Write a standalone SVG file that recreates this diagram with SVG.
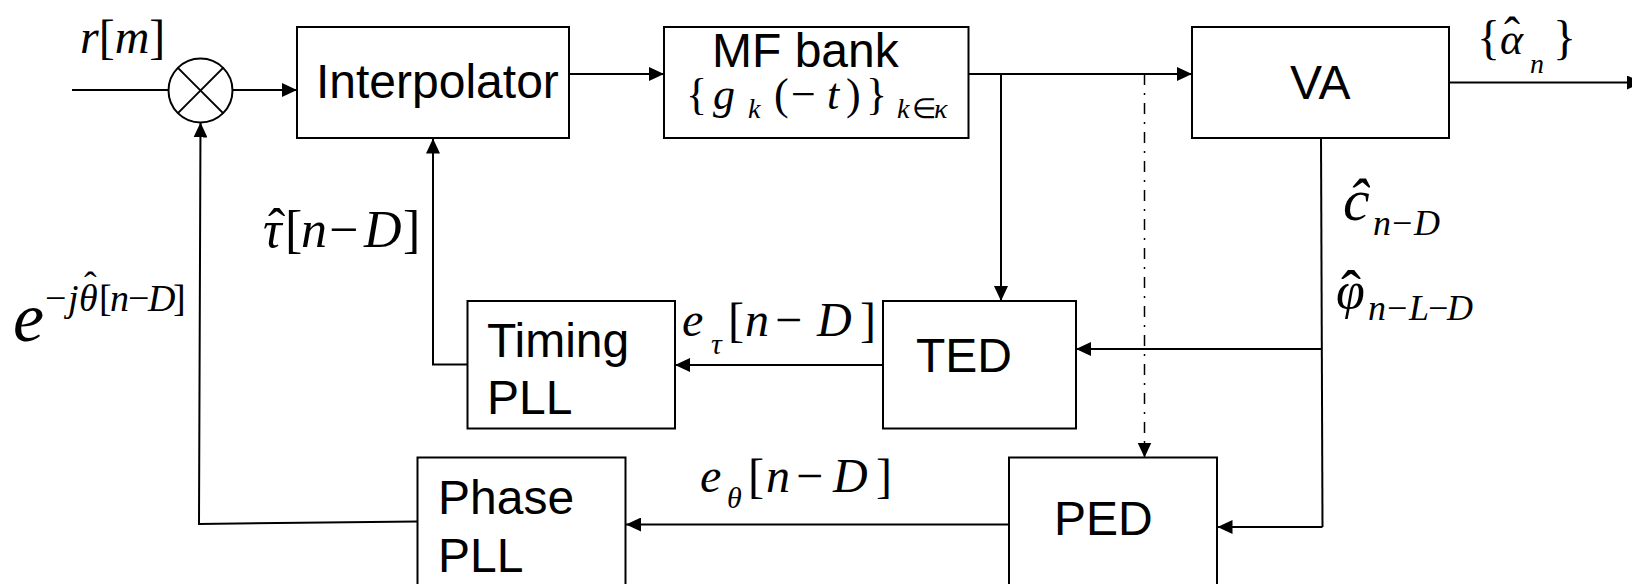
<svg xmlns="http://www.w3.org/2000/svg" width="1632" height="584" viewBox="0 0 1632 584">
<style>
.box{fill:#fff;stroke:#000;stroke-width:2}
.lbl{font-family:"Liberation Sans",Arial,sans-serif;font-size:48px;fill:#000}
.m{font-family:"Liberation Serif","Times New Roman",serif;fill:#000}
.i{font-style:italic}
.n{font-style:normal}
.ln{fill:none;stroke:#000;stroke-width:2}
.dd{fill:none;stroke:#000;stroke-width:1.5;stroke-dasharray:11 8 2 8}
</style>
<defs>
<marker id="ah" markerUnits="userSpaceOnUse" markerWidth="16" markerHeight="14" refX="15" refY="7" orient="auto">
<path d="M0,0 L15,7 L0,14 z" fill="#000"/>
</marker>
</defs>

<g id="connectors">
<line class="ln" x1="72" y1="90" x2="168.5" y2="90"/>
<line class="ln" x1="232.5" y1="90" x2="297" y2="90" marker-end="url(#ah)"/>
<line class="ln" x1="569" y1="74" x2="664" y2="74" marker-end="url(#ah)"/>
<line class="ln" x1="968.5" y1="74" x2="1192" y2="74" marker-end="url(#ah)"/>
<line class="ln" x1="1001" y1="74" x2="1001" y2="301" marker-end="url(#ah)"/>
<line class="dd" x1="1144.5" y1="74" x2="1144.5" y2="457.5" marker-end="url(#ah)"/>
<line class="ln" x1="1450" y1="82.5" x2="1642" y2="82.5" marker-end="url(#ah)"/>
<polyline class="ln" points="1321,138 1322.5,527"/>
<line class="ln" x1="1322" y1="349" x2="1076" y2="349" marker-end="url(#ah)"/>
<line class="ln" x1="1322.5" y1="527" x2="1217.5" y2="527" marker-end="url(#ah)"/>
<line class="ln" x1="883" y1="365" x2="675" y2="365" marker-end="url(#ah)"/>
<polyline class="ln" points="467.5,364.5 433,364.5 433,138.5" marker-end="url(#ah)"/>
<line class="ln" x1="1009" y1="524.5" x2="626" y2="524.5" marker-end="url(#ah)"/>
<polyline class="ln" points="417.5,521.5 199,524 200.5,122.5" marker-end="url(#ah)"/>
</g>

<g id="mixer">
<circle cx="200.5" cy="90.5" r="32" fill="#fff" stroke="#000" stroke-width="2"/>
<line class="ln" x1="177.9" y1="67.9" x2="223.1" y2="113.1"/>
<line class="ln" x1="223.1" y1="67.9" x2="177.9" y2="113.1"/>
</g>

<g id="interpolator">
<rect class="box" x="297" y="27" width="272" height="111"/>
<text class="lbl" x="316" y="98">Interpolator</text>
</g>

<g id="mfbank">
<rect class="box" x="664" y="27" width="304.5" height="111"/>
<text><tspan class="lbl" x="712" y="67">MF bank</tspan><tspan class="m" font-size="44" x="686" y="109">{</tspan><tspan class="m i" font-size="44" x="713">g</tspan><tspan class="m i" x="748" y="118" font-size="28">k</tspan><tspan class="m" font-size="44" x="774" y="109">(</tspan><tspan class="m" font-size="44" x="791">−</tspan><tspan class="m i" font-size="44" x="827">t</tspan><tspan class="m" font-size="44" x="846">)</tspan><tspan class="m" font-size="44" x="866">}</tspan><tspan class="m i" font-size="28" x="897" y="118">k</tspan><tspan class="m" font-size="28" x="912">∈</tspan><tspan class="m i" font-size="28" x="934">κ</tspan></text>
</g>

<g id="va">
<rect class="box" x="1192" y="27" width="257" height="111"/>
<text class="lbl" x="1290" y="99">VA</text>
</g>

<g id="ted">
<rect class="box" x="883" y="301" width="193" height="127.5"/>
<text class="lbl" x="916" y="372">TED</text>
</g>

<g id="timingpll">
<rect class="box" x="467.5" y="301" width="207.5" height="127.5"/>
<text class="lbl" x="487" y="357">Timing</text>
<text class="lbl" x="487" y="414">PLL</text>
</g>

<g id="ped">
<rect class="box" x="1009" y="457.5" width="208" height="150"/>
<text class="lbl" x="1054" y="535">PED</text>
</g>

<g id="phasepll">
<rect class="box" x="417.5" y="457.5" width="208" height="150"/>
<text class="lbl" x="438" y="514">Phase</text>
<text class="lbl" x="438" y="572">PLL</text>
</g>

<g id="labels">
<text class="m" font-size="48" x="80" y="53"><tspan class="i">r</tspan>[<tspan class="i">m</tspan>]</text>

<text class="m" font-size="52" y="247"><tspan x="263" class="i">τ</tspan><tspan x="285">[</tspan><tspan x="301" class="i">n</tspan><tspan x="329">−</tspan><tspan x="364" class="i">D</tspan><tspan x="403">]</tspan><tspan x="268" y="245">ˆ</tspan></text>

<text class="m" y="341"><tspan x="13" font-size="70" class="i">e</tspan><tspan x="45" y="311" font-size="38">−</tspan><tspan x="68" class="i" font-size="38">j</tspan><tspan x="79" class="i" font-size="38">θ</tspan><tspan x="99" font-size="38">[</tspan><tspan x="110" class="i" font-size="38">n</tspan><tspan x="128" font-size="38">−</tspan><tspan x="148" class="i" font-size="38">D</tspan><tspan x="173" font-size="38">]</tspan><tspan x="84" y="298" font-size="38">ˆ</tspan></text>

<text class="m" font-size="48" y="336"><tspan x="682" class="i">e</tspan><tspan x="711" y="354" font-size="30" class="i">τ</tspan><tspan x="728" y="336">[</tspan><tspan x="745" class="i">n</tspan><tspan x="775">−</tspan><tspan x="817" class="i">D</tspan><tspan x="860">]</tspan></text>

<text class="m" font-size="48" y="492"><tspan x="700" class="i">e</tspan><tspan x="727" y="508" font-size="30" class="i">θ</tspan><tspan x="748" y="492">[</tspan><tspan x="766" class="i">n</tspan><tspan x="796">−</tspan><tspan x="833" class="i">D</tspan><tspan x="876">]</tspan></text>

<text class="m" font-size="48" y="54"><tspan x="1477">{</tspan><tspan x="1500" class="i" font-size="44">α</tspan><tspan x="1530" y="73" font-size="28" class="i">n</tspan><tspan x="1553" y="54">}</tspan><tspan x="1504" y="51">ˆ</tspan></text>

<text class="m" y="220"><tspan x="1343" font-size="60" class="i">ĉ</tspan><tspan x="1373" y="235" font-size="36" class="i">n</tspan><tspan x="1392" font-size="36">−</tspan><tspan x="1414" font-size="36" class="i">D</tspan></text>

<text class="m" y="308"><tspan x="1336" font-size="52" class="i">φ</tspan><tspan x="1368" y="320" font-size="36" class="i">n</tspan><tspan x="1387" font-size="36">−</tspan><tspan x="1409" font-size="36" class="i">L</tspan><tspan x="1428" font-size="36">−</tspan><tspan x="1447" font-size="36" class="i">D</tspan><tspan x="1341" y="311" font-size="60">ˆ</tspan></text>
</g>
</svg>
